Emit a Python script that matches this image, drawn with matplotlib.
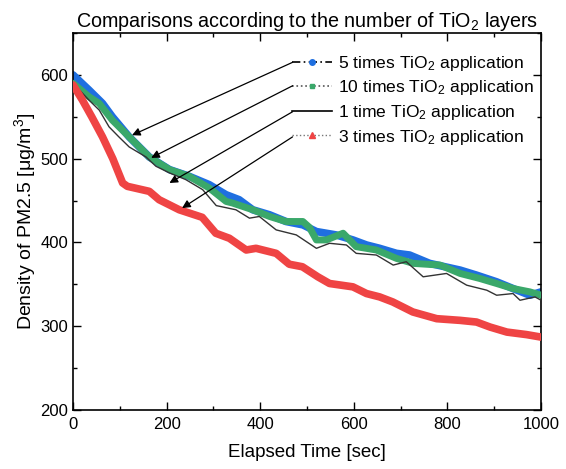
import matplotlib
matplotlib.use("Agg")
import matplotlib.pyplot as plt
from matplotlib.lines import Line2D
from matplotlib.ticker import MultipleLocator

plt.rcParams['font.family'] = ['Liberation Sans', 'DejaVu Sans']
plt.rcParams['mathtext.fontset'] = 'custom'
plt.rcParams['mathtext.rm'] = 'Liberation Sans'
plt.rcParams['mathtext.it'] = 'Liberation Sans:italic'

# ---- data ----
x_5 = [0, 34, 63, 84, 120, 163, 206, 248, 291, 327, 355, 384, 420, 455, 491, 520, 562,
       598, 627, 655, 691, 719, 762, 827, 862, 905, 940, 976, 1000]
y_5 = [600, 582, 566, 550, 526, 502, 487, 479, 469, 457, 451, 439, 433, 425, 421, 413, 409,
       403, 397, 393, 387, 385, 375, 367, 361, 353, 345, 337, 341]

x_10 = [0, 34, 56, 84, 120, 163, 206, 248, 291, 327, 341, 384, 420, 455, 491, 505, 520,
        541, 577, 605, 648, 691, 727, 784, 827, 869, 905, 940, 976, 1000]
y_10 = [590, 574, 566, 546, 526, 502, 487, 479, 465, 449, 447, 439, 431, 425, 425, 418, 403,
        403, 411, 395, 391, 381, 375, 373, 363, 357, 351, 345, 341, 337]

x_1 = [0, 34, 56, 77, 98, 120, 156, 177, 206, 241, 277, 306, 348, 377, 398, 434, 477, 520,
       548, 584, 605, 648, 684, 712, 748, 798, 841, 884, 905, 940, 955, 987, 1000]
y_1 = [590, 570, 558, 538, 526, 514, 502, 491, 483, 475, 463, 444, 439, 429, 431, 415, 409, 393,
       399, 397, 387, 385, 373, 377, 359, 363, 349, 343, 337, 339, 331, 335, 331]

x_3 = [0, 20, 40, 63, 85, 106, 116, 163, 184, 227, 276, 305, 334, 370, 391, 434, 462, 490,
       523, 548, 598, 627, 655, 683, 726, 777, 827, 862, 891, 927, 969, 1000]
y_3 = [588, 570, 550, 526, 500, 471, 467, 461, 451, 439, 430, 411, 405, 391, 393, 387, 374, 371,
       359, 351, 347, 339, 335, 329, 317, 309, 307, 305, 299, 293, 290, 287]

labels = ["5 times TiO$_\\mathrm{2}$ application",
          "10 times TiO$_\\mathrm{2}$ application",
          "1 time TiO$_\\mathrm{2}$ application",
          "3 times TiO$_\\mathrm{2}$ application"]

# arrow start (legend) and end (curve) points in data coords
arrow_start = [(469, 615), (469, 587), (469, 556), (469, 526)]
arrow_end = [(126, 528), (167, 501), (206, 471), (233, 441)]

c_blue = '#1f6fe0'
c_green = '#3aa86a'
c_black = '#333333'
c_red = '#ef4444'

fig = plt.figure(figsize=(5.66, 4.69), dpi=100)
ax = fig.add_axes([0.129, 0.1258, 0.827, 0.8038])

ax.plot(x_5, y_5, color=c_blue, lw=5.5, solid_joinstyle='round', solid_capstyle='round', zorder=2)
ax.plot(x_10, y_10, color=c_green, lw=5, solid_joinstyle='round', solid_capstyle='round', zorder=3)
ax.plot(x_1, y_1, color=c_black, lw=1.0, zorder=4)
ax.plot(x_3, y_3, color=c_red, lw=5.5, solid_joinstyle='round', solid_capstyle='round', zorder=5)

for (xs, ys), (xe, ye) in zip(arrow_start, arrow_end):
    ax.annotate('', xy=(xe, ye), xytext=(xs, ys),
                arrowprops=dict(arrowstyle='-|>', color='black', lw=0.9,
                                mutation_scale=12, shrinkA=0, shrinkB=0), zorder=6)

handles = [
    Line2D([], [], color='black', ls=(0, (5, 2, 1, 2)), lw=1.2, marker='o', markersize=4,
           markerfacecolor=c_blue, markeredgecolor=c_blue),
    Line2D([], [], color='#555555', ls=':', lw=1.2, marker='s', markersize=3,
           markerfacecolor=c_green, markeredgecolor=c_green),
    Line2D([], [], color='black', ls='-', lw=1.2),
    Line2D([], [], color='#777777', ls=':', lw=1.0, marker='^', markersize=4,
           markerfacecolor=c_red, markeredgecolor=c_red),
]
leg = ax.legend(handles, labels, loc='upper left', bbox_to_anchor=(0.468, 0.945),
                frameon=False, fontsize=12.6, handlelength=2.3, handletextpad=0.3,
                labelspacing=0.32, borderaxespad=0, borderpad=0)

ax.set_xlim(0, 1000)
ax.set_ylim(200, 650)
ax.set_xticks([0, 200, 400, 600, 800, 1000])
ax.set_yticks([200, 300, 400, 500, 600])
ax.xaxis.set_minor_locator(MultipleLocator(100))
ax.yaxis.set_minor_locator(MultipleLocator(50))
ax.tick_params(which='both', direction='in', top=True, right=True, labelsize=12, width=1)
ax.tick_params(which='major', length=6)
ax.tick_params(which='minor', length=3)
ax.tick_params(axis='x', pad=5)
for s in ax.spines.values():
    s.set_linewidth(1.2)

ax.set_xlabel('Elapsed Time [sec]', fontsize=13.5, labelpad=9)
ax.set_ylabel('Density of PM2.5 [μg/m$^\\mathrm{3}$]', fontsize=14, labelpad=2)
ax.set_title('Comparisons according to the number of TiO$_\\mathrm{2}$ layers', fontsize=14.2, pad=3)

fig.savefig('out.png', dpi=100)
